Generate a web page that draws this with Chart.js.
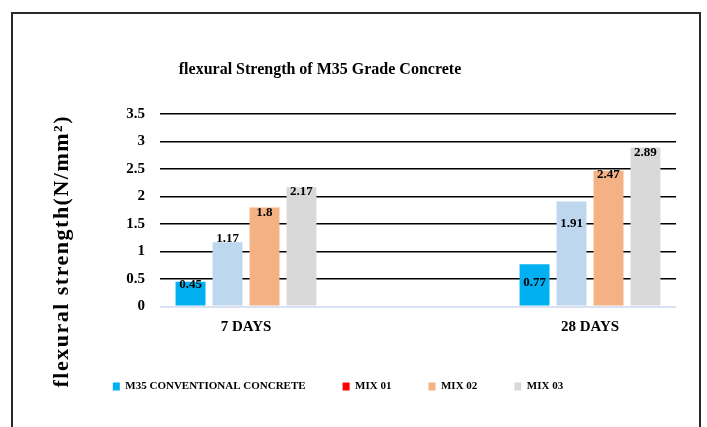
<!DOCTYPE html>
<html>
<head>
<meta charset="utf-8">
<script src="https://cdn.jsdelivr.net/npm/chart.js@4.4.0/dist/chart.umd.min.js"></script>
<style>
  html, body { margin: 0; padding: 0; background: #fff; }
  #wrap { width: 707px; height: 427px; }
</style>
</head>
<body>
<div id="wrap"><canvas id="grafico" width="707" height="427"></canvas></div>
<script>
// datos
const dias = ['7 DAYS', '28 DAYS'];
const series = ['M35 CONVENTIONAL CONCRETE', 'MIX 01', 'MIX 02', 'MIX 03'];
const m35 = [0.45, 0.77];
const mix01 = [1.17, 1.91];
const mix02 = [1.8, 2.47];
const mix03 = [2.17, 2.89];
const yTicks = [0, 0.5, 1, 1.5, 2, 2.5, 3, 3.5];

const coloresBarra = ['#00B0F0', '#BDD7EE', '#F4B183', '#D9D9D9'];
const coloresLeyenda = ['#00B0F0', '#FF0000', '#F4B183', '#D9D9D9'];
const serif = "'Liberation Serif', 'Times New Roman', serif";

// marco y fondo
const marco = {
  id: 'marco',
  beforeDraw(chart) {
    const ctx = chart.ctx;
    ctx.save();
    ctx.fillStyle = '#fff';
    ctx.fillRect(0, 0, chart.width, chart.height);
    ctx.strokeStyle = '#2a2a2a';
    ctx.lineWidth = 2;
    ctx.beginPath();
    ctx.moveTo(12, chart.height + 2);
    ctx.lineTo(12, 13);
    ctx.lineTo(700, 13);
    ctx.lineTo(700, chart.height + 2);
    ctx.stroke();
    ctx.restore();
  }
};

// titulo y titulo del eje y
const textos = {
  id: 'textos',
  afterDraw(chart) {
    const ctx = chart.ctx;
    const area = chart.chartArea;
    ctx.save();
    ctx.fillStyle = '#000';
    ctx.textAlign = 'center';
    ctx.textBaseline = 'middle';
    ctx.font = 'bold 16px ' + serif;
    ctx.fillText('flexural Strength of M35 Grade Concrete', 320, 70);
    ctx.translate(62, (area.top + area.bottom) / 2 + 41);
    ctx.rotate(-Math.PI / 2);
    ctx.font = 'bold 22px ' + serif;
    ctx.letterSpacing = '1.5px';
    ctx.fillText('flexural strength(N/mm²)', 0, 0);
    ctx.restore();
  }
};

// etiquetas de valor sobre las barras
const etiquetas = {
  id: 'etiquetas',
  afterDatasetsDraw(chart, args, opts) {
    const ctx = chart.ctx;
    ctx.save();
    ctx.fillStyle = '#000';
    ctx.textAlign = 'center';
    ctx.textBaseline = 'middle';
    ctx.font = 'bold 13px ' + serif;
    chart.data.datasets.forEach((ds, i) => {
      const meta = chart.getDatasetMeta(i);
      meta.data.forEach((bar, j) => {
        const dy = opts.desplazamiento[i][j];
        ctx.fillText(String(ds.data[j]), bar.x, bar.y + dy);
      });
    });
    ctx.restore();
  }
};

function chart() {
  const ctx = document.getElementById('grafico').getContext('2d');
  const valores = [m35, mix01, mix02, mix03];
  new Chart(ctx, {
    type: 'bar',
    data: {
      labels: dias,
      datasets: series.map((nombre, i) => ({
        label: nombre,
        data: valores[i],
        backgroundColor: coloresBarra[i],
        borderWidth: 0,
        categoryPercentage: 0.43,
        barPercentage: 0.81
      }))
    },
    options: {
      responsive: false,
      animation: false,
      layout: { padding: { top: 114, right: 31, bottom: 25, left: 0 } },
      scales: {
        x: {
          grid: { display: false, drawTicks: false },
          border: { display: false },
          ticks: { color: '#000', padding: 12, font: { family: serif, size: 15, weight: 'bold' } },
          afterFit(scale) { scale.height = 37.5; },
          afterUpdate(scale) {
            // las categorias quedan a 1/6 y 5/6 del ancho
            scale._startValue = -0.25;
            scale._valueRange = 1.5;
          }
        },
        y: {
          min: yTicks[0],
          max: yTicks[yTicks.length - 1],
          ticks: {
            stepSize: yTicks[1] - yTicks[0],
            color: '#000',
            padding: 15,
            font: { family: serif, size: 15, weight: 'bold' },
            callback: (v) => String(v)
          },
          grid: {
            drawTicks: false,
            lineWidth: (c) => (c.tick && c.tick.value === 0 ? 2 : 1.6),
            color: (c) => (c.tick && c.tick.value === 0 ? '#D9E1F2' : '#000')
          },
          border: { display: false },
          afterFit(scale) { scale.width = 160; }
        }
      },
      plugins: {
        title: { display: false },
        tooltip: { enabled: false },
        legend: {
          position: 'bottom',
          labels: {
            color: '#000',
            boxWidth: 7,
            boxHeight: 8,
            padding: 37,
            font: { family: serif, size: 11, weight: 'bold' },
            generateLabels(ch) {
              const items = Chart.defaults.plugins.legend.labels.generateLabels(ch);
              items.forEach((it, i) => {
                it.fillStyle = coloresLeyenda[i];
                it.strokeStyle = coloresLeyenda[i];
                it.lineWidth = 0;
              });
              return items;
            }
          }
        },
        etiquetas: {
          desplazamiento: [[3, 18], [-4, 22], [5, 4], [4, 5]]
        }
      }
    },
    plugins: [marco, textos, etiquetas]
  });
}

window.addEventListener('DOMContentLoaded', () => {
  chart();
});
</script>
</body>
</html>
